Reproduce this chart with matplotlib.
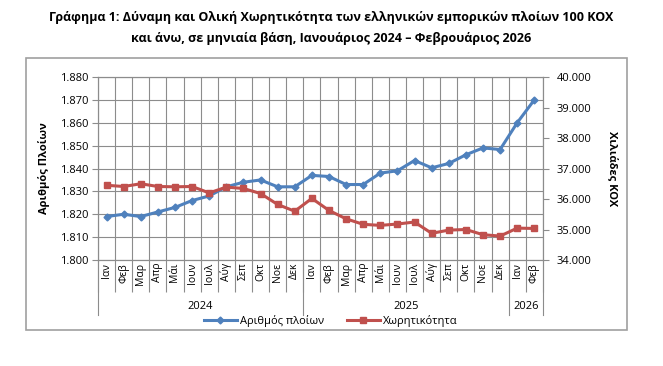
import numpy as np
import matplotlib
matplotlib.use("Agg")
from matplotlib import pyplot as plt
from matplotlib.patches import Rectangle

plt.rcParams['font.family'] = ['Open Sans', 'DejaVu Sans']

months = ["Ιαν", "Φεβ", "Μαρ", "Απρ", "Μάι", "Ιουν", "Ιουλ", "Αύγ", "Σεπ", "Οκτ", "Νοε", "Δεκ",
          "Ιαν", "Φεβ", "Μαρ", "Απρ", "Μάι", "Ιουν", "Ιουλ", "Αύγ", "Σεπ", "Οκτ", "Νοε", "Δεκ",
          "Ιαν", "Φεβ"]
years = ["2024", "2025", "2026"]
year_counts = [12, 12, 2]

# number of ships (left axis)
ships = [1819, 1820, 1819, 1821, 1823, 1826, 1828, 1832, 1834, 1835, 1832, 1832,
         1837, 1836.5, 1833, 1833, 1838, 1839, 1843.5, 1840.3, 1842.2, 1846, 1849, 1848.3,
         1860, 1870]
# gross tonnage, thousands (right axis)
tonnage = [36450, 36410, 36500, 36410, 36400, 36410, 36200, 36390, 36345, 36180, 35820, 35600,
           36020, 35625, 35350, 35170, 35135, 35180, 35245, 34875, 34980, 35000, 34830, 34785,
           35045, 35035]

blue = "#4F81BD"
red = "#C0504D"
grid_c = "#8c8c8c"

fig = plt.figure(figsize=(6.63, 3.66), dpi=100)
fig.patches.append(Rectangle((0.0392, 0.0984), 0.9065, 0.743, transform=fig.transFigure,
                             fill=False, edgecolor="#a0a0a0", linewidth=1.2))

ax = fig.add_axes([0.1478, 0.2896, 0.671, 0.5])
x = np.arange(len(months))

ax.set_xlim(-0.5, len(months) - 0.5)
ax.set_ylim(1800, 1880)
ax.set_yticks(np.arange(1800, 1881, 10))
ax.set_yticklabels([f"{v:,.0f}".replace(",", ".") for v in np.arange(1800, 1881, 10)], fontsize=8)
ax.set_xticks(np.arange(-0.5, len(months), 1))
ax.set_xticklabels([])
ax.set_xticks(x, minor=True)
ax.set_xticklabels(months, minor=True, rotation=90, fontsize=7.5)
ax.tick_params(axis='x', which='major', length=23, color=grid_c, width=0.8)
ax.tick_params(axis='x', which='minor', length=0, pad=2)
ax.tick_params(axis='y', length=4, color=grid_c, pad=3)
ax.grid(True, which='major', color=grid_c, linewidth=0.8)
ax.set_axisbelow(True)
for s in ax.spines.values():
    s.set_color(grid_c)
    s.set_linewidth(0.8)

l1, = ax.plot(x, ships, color=blue, linewidth=2.2, marker="D", markersize=3.5,
              label="Αριθμός πλοίων", zorder=3)
ax.set_ylabel("Αριθμός Πλοίων", fontsize=8, fontweight="bold", labelpad=7)

ax2 = ax.twinx()
ax2.set_ylim(34000, 40000)
ax2.set_yticks(np.arange(34000, 40001, 1000))
ax2.set_yticklabels([f"{v:,.0f}".replace(",", ".") for v in np.arange(34000, 40001, 1000)], fontsize=8)
ax2.tick_params(axis='y', length=4, color=grid_c, pad=6)
for s in ax2.spines.values():
    s.set_color(grid_c)
    s.set_linewidth(0.8)
l2, = ax2.plot(x, tonnage, color=red, linewidth=2.2, marker="s", markersize=5,
               label="Χωρητικότητα", zorder=3)
ax2.set_ylabel("Χιλιάδες ΚΟΧ", fontsize=8, fontweight="bold", rotation=270, labelpad=19)

# year row
start = 0
for yr, n in zip(years, year_counts):
    ax.plot([start - 0.5, start - 0.5], [0, -0.30], transform=ax.get_xaxis_transform(),
            color=grid_c, linewidth=0.8, clip_on=False)
    ax.text(start + n / 2 - 0.5, -0.255, yr, transform=ax.get_xaxis_transform(),
            ha="center", va="center", fontsize=8)
    start += n
ax.plot([start - 0.5, start - 0.5], [0, -0.30], transform=ax.get_xaxis_transform(),
        color=grid_c, linewidth=0.8, clip_on=False)

fig.legend(handles=[l1, l2], loc="center", bbox_to_anchor=(0.499, 0.123), ncol=2,
           frameon=False, fontsize=8, handlelength=3, columnspacing=2, handletextpad=0.3)

fig.text(0.5, 0.951, "Γράφημα 1: Δύναμη και Ολική Χωρητικότητα των ελληνικών εμπορικών πλοίων 100 ΚΟΧ",
         ha="center", va="center", fontsize=9, fontweight="bold")
fig.text(0.5, 0.896, "και άνω, σε μηνιαία βάση, Ιανουάριος 2024 – Φεβρουάριος 2026",
         ha="center", va="center", fontsize=9, fontweight="bold")

fig.savefig("out.png", dpi=100)
